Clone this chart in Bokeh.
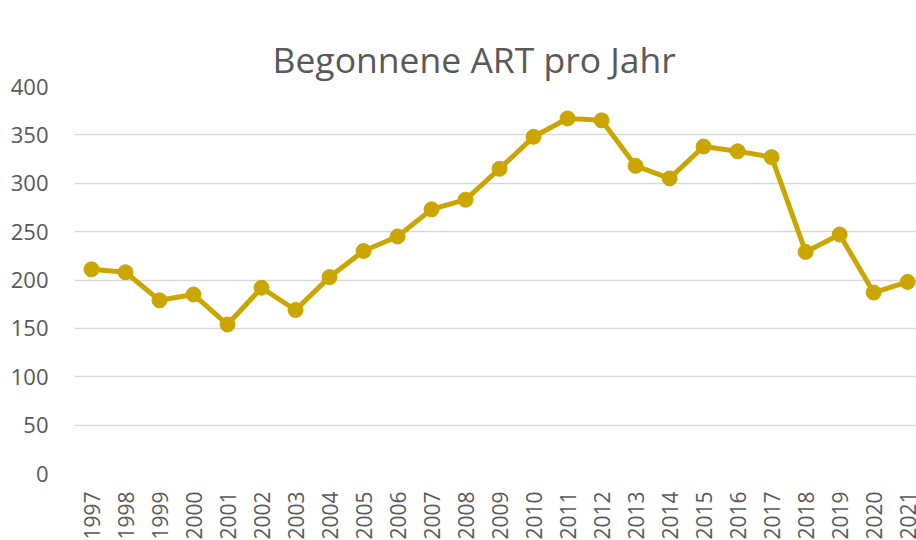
from bokeh.plotting import figure
from bokeh.models import Range1d, FixedTicker, LinearAxis
from bokeh.embed import file_html
from bokeh.resources import INLINE

title_text = "Begonnene ART pro Jahr"
years = list(range(1997, 2022))
values = [211, 208, 179, 185, 154, 192, 169, 203, 230, 245, 273, 283, 315,
          348, 367, 365, 318, 305, 338, 333, 327, 229, 247, 187, 198]
y_ticks = [0, 50, 100, 150, 200, 250, 300, 350, 400]

LINE_COLOR = "#CCA600"
TEXT_COLOR = "#595959"
FONT = "Open Sans"

p = figure(frame_width=842, frame_height=387, output_backend="svg", toolbar_location=None,
           x_range=Range1d(1996.5, 2021.26), y_range=Range1d(0, 400),
           min_border_left=74, min_border_right=0, min_border_top=86,
           min_border_bottom=60, title=title_text)

p.title.text_font = FONT
p.title.text_font_size = "35.5px"
p.title.text_font_style = "normal"
p.title.text_color = TEXT_COLOR
p.title.align = "left"
p.title.offset = 198
p.title.vertical_align = "top"
p.title.standoff = 4

xaxis = p.below[0]
yaxis = p.left[0]

# empty axis used only as spacing between title and plot area
spacer = LinearAxis(ticker=FixedTicker(ticks=[]), axis_line_color=None,
                    major_tick_line_color=None, minor_tick_line_color=None,
                    major_tick_out=32, major_tick_in=0, minor_tick_out=0,
                    major_label_standoff=0)
p.add_layout(spacer, "above")

p.outline_line_color = None
p.background_fill_color = "white"
p.border_fill_color = "white"

p.xgrid.grid_line_color = None
p.ygrid.grid_line_color = "#D9D9D9"
p.ygrid.grid_line_width = 1.5

xaxis.ticker = FixedTicker(ticks=years)
yaxis.ticker = FixedTicker(ticks=y_ticks)
for ax in (xaxis, yaxis):
    ax.axis_line_color = None
    ax.major_tick_line_color = None
    ax.minor_tick_line_color = None
    ax.major_tick_out = 0
    ax.major_tick_in = 0
    ax.minor_tick_out = 0
    ax.major_label_text_font = FONT
    ax.major_label_text_font_size = "21px"
    ax.major_label_text_color = TEXT_COLOR
yaxis.major_label_text_font_size = "22px"
xaxis.major_label_orientation = 3.14159265 / 2
xaxis.major_label_standoff = 18
yaxis.major_label_standoff = 26

p.line(years, values, line_color=LINE_COLOR, line_width=5)
p.scatter(years, values, size=15, fill_color=LINE_COLOR, line_color=LINE_COLOR)

open("out.html", "w").write(file_html(p, INLINE))
